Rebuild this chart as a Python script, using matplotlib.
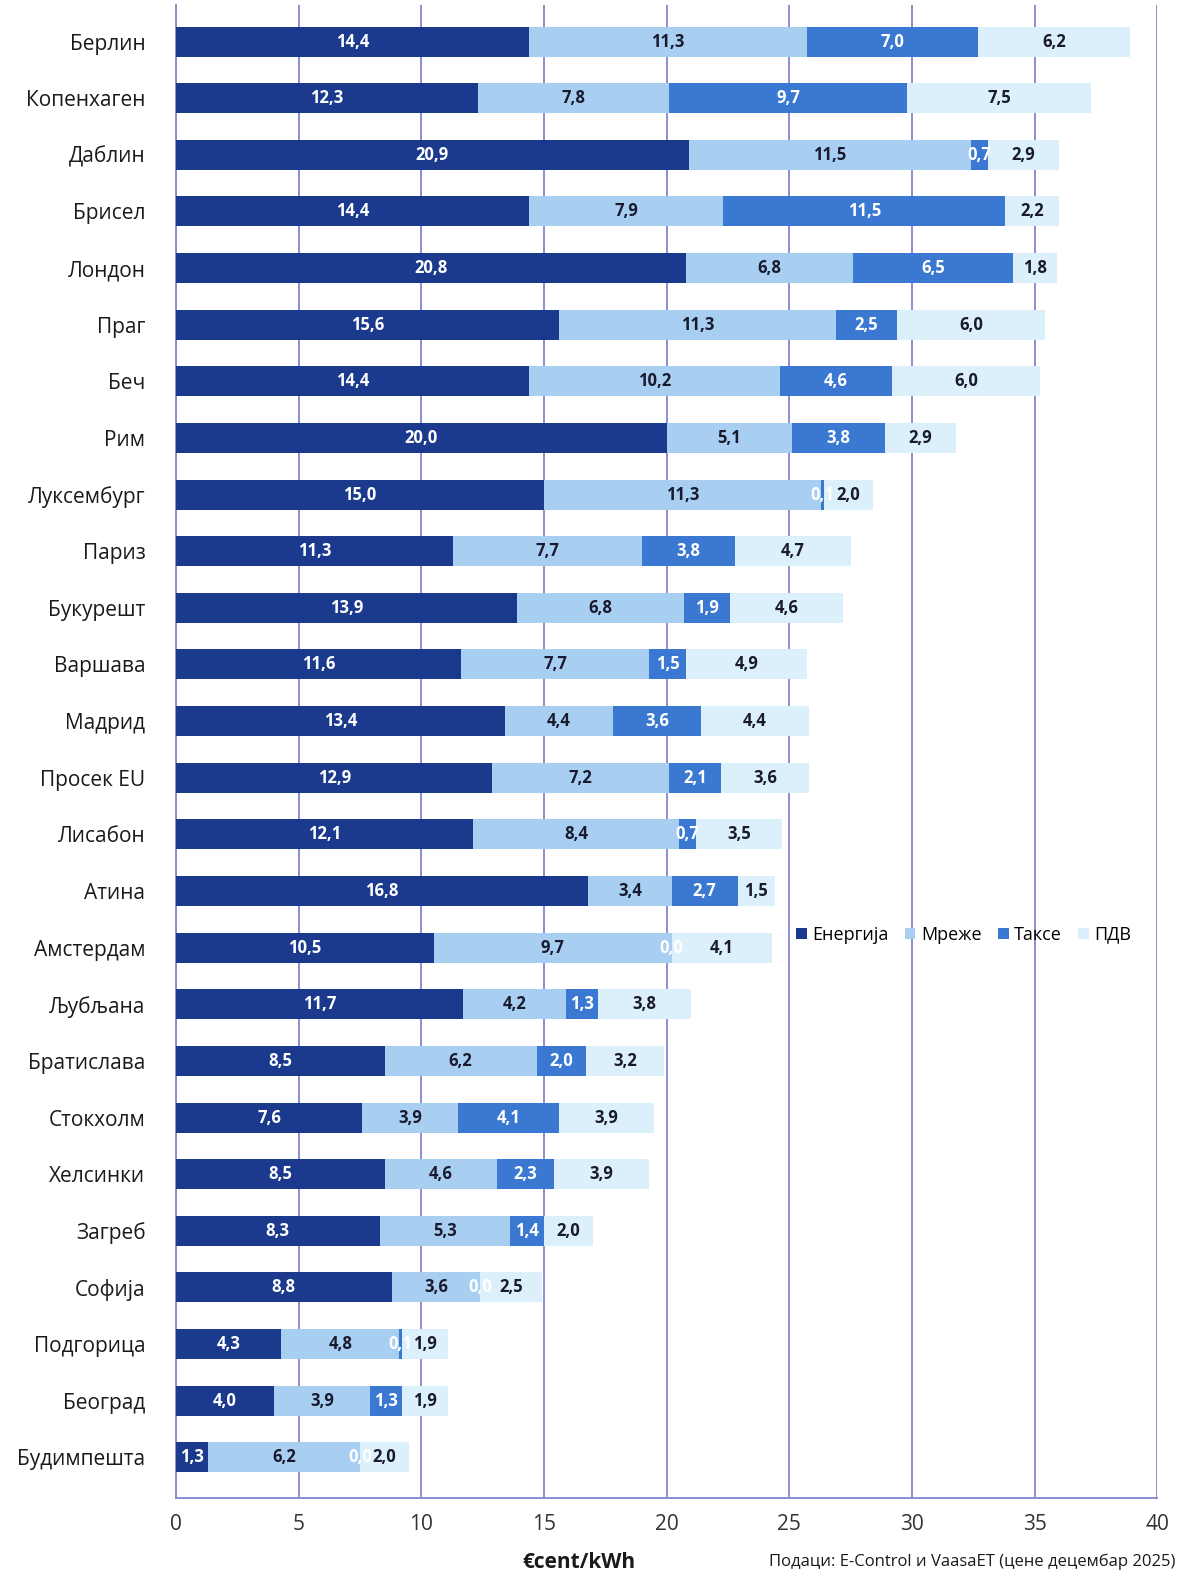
import matplotlib
matplotlib.use("Agg")
import matplotlib.pyplot as plt
import numpy as np

plt.rcParams['font.family'] = ['Open Sans', 'DejaVu Sans']

cities = ["Берлин", "Копенхаген", "Даблин", "Брисел", "Лондон", "Праг", "Беч", "Рим",
          "Луксембург", "Париз", "Букурешт", "Варшава", "Мадрид", "Просек EU", "Лисабон",
          "Атина", "Амстердам", "Љубљана", "Братислава", "Стокхолм", "Хелсинки", "Загреб",
          "Софија", "Подгорица", "Београд", "Будимпешта"]
energija = [14.4, 12.3, 20.9, 14.4, 20.8, 15.6, 14.4, 20.0, 15.0, 11.3, 13.9, 11.6, 13.4,
            12.9, 12.1, 16.8, 10.5, 11.7, 8.5, 7.6, 8.5, 8.3, 8.8, 4.3, 4.0, 1.3]
mreze = [11.3, 7.8, 11.5, 7.9, 6.8, 11.3, 10.2, 5.1, 11.3, 7.7, 6.8, 7.7, 4.4,
         7.2, 8.4, 3.4, 9.7, 4.2, 6.2, 3.9, 4.6, 5.3, 3.6, 4.8, 3.9, 6.2]
takse = [7.0, 9.7, 0.7, 11.5, 6.5, 2.5, 4.6, 3.8, 0.1, 3.8, 1.9, 1.5, 3.6,
         2.1, 0.7, 2.7, 0.0, 1.3, 2.0, 4.1, 2.3, 1.4, 0.0, 0.1, 1.3, 0.0]
pdv = [6.2, 7.5, 2.9, 2.2, 1.8, 6.0, 6.0, 2.9, 2.0, 4.7, 4.6, 4.9, 4.4,
       3.6, 3.5, 1.5, 4.1, 3.8, 3.2, 3.9, 3.9, 2.0, 2.5, 1.9, 1.9, 2.0]

series = [("Енергија", energija, "#1b3a8e", "white"),
          ("Мреже", mreze, "#a8cff2", "#1a1a2e"),
          ("Таксе", takse, "#3a78d2", "white"),
          ("ПДВ", pdv, "#dcf0fb", "#1a1a2e")]

fig = plt.figure(figsize=(11.81, 15.78), dpi=100)
ax = fig.add_axes([0.149, 0.051, 0.831, 0.946])

y = np.arange(len(cities))
left = np.zeros(len(cities))
for name, vals, col, tcol in series:
    vals = np.array(vals)
    ax.barh(y, vals, left=left, height=0.53, color=col, label=name, zorder=3)
    for i, v in enumerate(vals):
        ax.text(left[i] + v / 2, y[i], f"{v:.1f}".replace(".", ","), ha="center", va="center",
                color=tcol, fontsize=12, fontweight="bold", zorder=4)
    left = left + vals

ax.set_xlim(0, 40)
ax.set_ylim(25.71, -0.65)
ax.set_xticks(range(0, 41, 5))
ax.set_yticks(y)
ax.set_yticklabels(cities, fontsize=15, color="#1a1a1a")
ax.tick_params(axis="x", length=0, pad=12, labelsize=15, labelcolor="#333333")
ax.tick_params(axis="y", length=0, pad=22)
ax.grid(axis="x", color="#8c8cd2", linewidth=1.4, zorder=0)
for s in ["top", "right"]:
    ax.spines[s].set_visible(False)
for s in ["left", "bottom"]:
    ax.spines[s].set_color("#8c8cd2")
    ax.spines[s].set_linewidth(1.4)

ax.legend(loc="center left", bbox_to_anchor=(0.615, 0.377), ncol=4, frameon=False,
          fontsize=13, handlelength=0.6, handleheight=0.6, handletextpad=0.3, columnspacing=0.9)

fig.text(0.49, 0.003, "€cent/kWh", fontsize=15, fontweight="bold", ha="center", va="bottom",
         color="#1a1a1a")
fig.text(0.995, 0.005, "Подаци: E-Control и VaasaET (цене децембар 2025)", fontsize=12,
         ha="right", va="bottom", color="#1a1a1a")

fig.savefig("out.png", dpi=100)
